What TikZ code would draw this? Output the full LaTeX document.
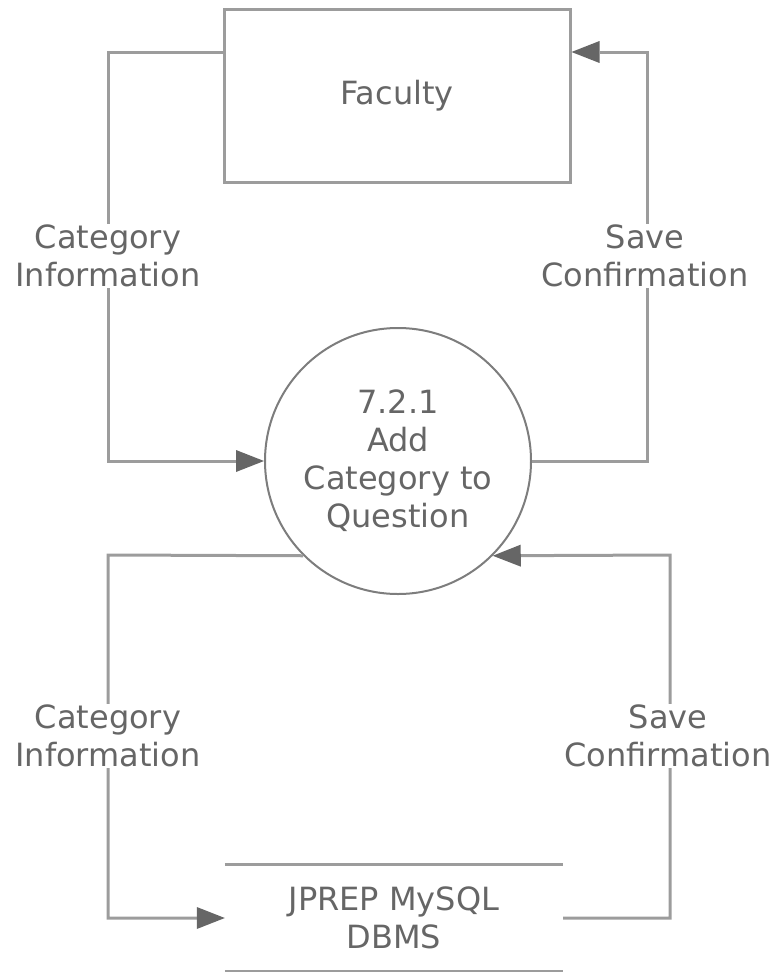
\documentclass[tikz,border=0pt]{standalone}
\usepackage{fontspec}
\setmainfont{DejaVu Sans}
\usetikzlibrary{arrows.meta}
\definecolor{lgray}{HTML}{9C9C9C}
\definecolor{dgray}{HTML}{666666}
\definecolor{tgray}{HTML}{666666}
\begin{document}
\begin{tikzpicture}[x=1pt,y=-1pt,
  every node/.style={font=\fontsize{32}{38}\selectfont, text=tgray, align=center},
  flow/.style={draw=lgray, line width=3pt, -{Triangle[length=28pt,width=22pt,color=dgray,line width=0pt]}},
  lbl/.style={fill=white, inner sep=1pt}]
\useasboundingbox (0,0) rectangle (777,972);
\node[draw=lgray, line width=3pt, minimum width=346pt, minimum height=173pt, inner sep=0pt] (fac) at (397,95.5) {Faculty};
\node[circle, draw=lgray!80!black, line width=2pt, minimum size=266pt, inner sep=0pt] (p) at (398,461) {7.2.1\\Add\\Category to\\Question};
\node[minimum width=338pt, minimum height=107pt, inner sep=0pt] (db) at (394,918) {JPREP MySQL\\DBMS};
\draw[lgray, line width=3pt] (db.north west) -- (db.north east);
\draw[lgray, line width=3pt] (db.south west) -- (db.south east);
\coordinate (y52) at (0,52);
\coordinate (a1) at (108,52);
\coordinate (a2) at (108,461);
\coordinate (b1) at (647,52);
\coordinate (b2) at (647,461);
\coordinate (c1) at (108,555);
\coordinate (c2) at (108,918);
\coordinate (d1) at (670,555);
\coordinate (d2) at (670,918);
\draw[flow] (fac.west |- y52) -- (a1) -- (a2) -- (p.west);
\draw[flow] (p.east) -- (b2) -- (b1) -- (fac.east |- y52);
\draw[flow] (p.-135) -- (c1) -- (c2) -- (db.west);
\draw[flow] (db.east) -- (d2) -- (d1) -- (p.-45);
\node[lbl] (l1) at (108,256) {Category\\Information};
\node[lbl] (l2) at (645,256) {Save\\Confirmation};
\node[lbl] (l3) at (108,736) {Category\\Information};
\node[lbl] (l4) at (668,736) {Save\\Confirmation};
\end{tikzpicture}
\end{document}
